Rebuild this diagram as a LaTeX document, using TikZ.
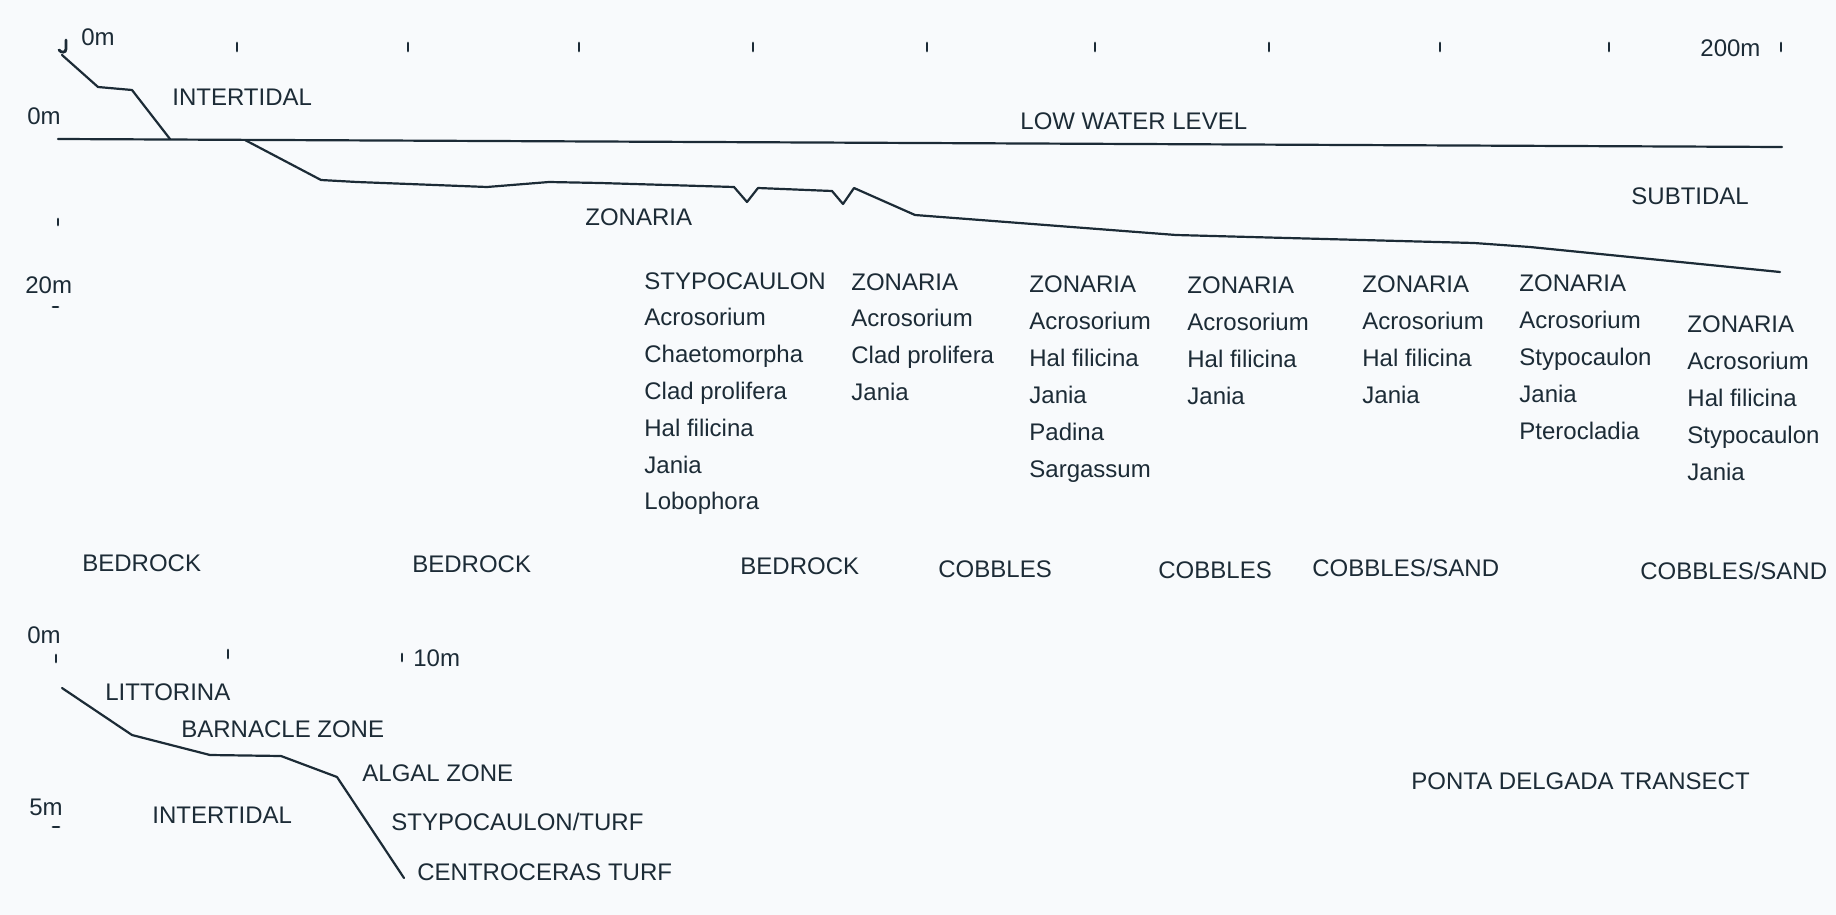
\documentclass[tikz,border=0pt]{standalone}
\usepackage{fontspec}
\setmainfont{Liberation Sans}
\definecolor{ink}{HTML}{1C2B36}
\definecolor{paper}{HTML}{F8FAFC}
\begin{document}
\begin{tikzpicture}[x=0.5pt,y=-0.5pt,
  lbl/.style={font=\fontsize{12}{14}\selectfont, inner sep=0pt, text=ink, anchor=west},
  row/.style={font=\fontsize{12}{14}\selectfont, inner sep=0pt, text=ink, anchor=base west},
  prof/.style={draw=ink, line width=1.1pt, line join=round, line cap=round},
  tickm/.style={draw=ink, line width=1.4pt, line cap=round}]
\fill[paper] (0,0) rectangle (1836,915);
\useasboundingbox (0,0) rectangle (1836,915);

% ---------- main transect ----------
% top scale ticks
\foreach \x [count=\i] in {237,408,579,753,927,1095,1269,1440,1609,1781}
  \draw[tickm] (\x,43) -- (\x,51);
\draw[tickm] (66,40) -- (66,49) .. controls (66,53) and (61,53) .. (59,50);
\node[lbl] (topzero) at (81,37) {0m};
\node[lbl] (toptwo) at (1700,48) {200m};

% left depth scale
\node[lbl] (lzero) at (27,116) {0m};
\draw[tickm] (58,219) -- (58,225);
\node[lbl] (ltwenty) at (25,285) {20m};
\draw[tickm] (53,307) -- (58,307);

% low water line
\coordinate (lwA) at (58,139);
\coordinate (lwB) at (1782,147);
\draw[prof] (lwA) -- (lwB);

% intertidal profile
\draw[prof] (62,55) -- (98,87) -- (132,90) -- (170,139);

% subtidal profile
\draw[prof] (245,140) -- (321,180) -- (357,182) -- (487,187) -- (549,182) -- (600,183)
  -- (734,187) -- (747,202) -- (758,188) -- (832,191) -- (843,204) -- (854,188)
  -- (915,215) -- (1176,235) -- (1250,237) -- (1474,243) -- (1530,247) -- (1780,272);

\node[lbl] (intert) at (172,97) {INTERTIDAL};
\node[lbl] (lwl) at (1020,121) {LOW WATER LEVEL};
\node[lbl] (subt) at (1631,196) {SUBTIDAL};
\node[lbl] (zon0) at (585,217) {ZONARIA};

% species columns
\foreach \t [count=\i] in {STYPOCAULON,Acrosorium,Chaetomorpha,Clad prolifera,Hal filicina,Jania,Lobophora}
  \node[row] (ca\i) at (644,{289+(\i-1)*36.8}) {\t};
\foreach \t [count=\i] in {ZONARIA,Acrosorium,Clad prolifera,Jania}
  \node[row] (cb\i) at (851,{290+(\i-1)*36.8}) {\t};
\foreach \t [count=\i] in {ZONARIA,Acrosorium,Hal filicina,Jania,Padina,Sargassum}
  \node[row] (cc\i) at (1029,{292+(\i-1)*37}) {\t};
\foreach \t [count=\i] in {ZONARIA,Acrosorium,Hal filicina,Jania}
  \node[row] (cd\i) at (1187,{293+(\i-1)*37}) {\t};
\foreach \t [count=\i] in {ZONARIA,Acrosorium,Hal filicina,Jania}
  \node[row] (ce\i) at (1362,{292+(\i-1)*37}) {\t};
\foreach \t [count=\i] in {ZONARIA,Acrosorium,Stypocaulon,Jania,Pterocladia}
  \node[row] (cf\i) at (1519,{291+(\i-1)*37}) {\t};
\foreach \t [count=\i] in {ZONARIA,Acrosorium,Hal filicina,Stypocaulon,Jania}
  \node[row] (cg\i) at (1687,{332+(\i-1)*37}) {\t};

% substrate
\node[lbl] (sub1) at (82,563) {BEDROCK};
\node[lbl] (sub2) at (412,564) {BEDROCK};
\node[lbl] (sub3) at (740,566) {BEDROCK};
\node[lbl] (sub4) at (938,569) {COBBLES};
\node[lbl] (sub5) at (1158,570) {COBBLES};
\node[lbl] (sub6) at (1312,568) {COBBLES/SAND};
\node[lbl] (sub7) at (1640,571) {COBBLES/SAND};

% ---------- inset intertidal profile ----------
\node[lbl] (izero) at (27,635) {0m};
\draw[tickm] (56,655) -- (56,662);
\draw[tickm] (228,650) -- (228,658);
\draw[tickm] (402,654) -- (402,661);
\node[lbl] (iten) at (413,658) {10m};
\node[lbl] (ifive) at (29,807) {5m};
\draw[tickm] (53,827) -- (59,827);

\draw[prof] (62,688) -- (132,735) -- (210,755) -- (281,756) -- (337,777) -- (404,878);

\node[lbl] (litt) at (105,692) {LITTORINA};
\node[lbl] (barn) at (181,729) {BARNACLE ZONE};
\node[lbl] (alg) at (362,773) {ALGAL ZONE};
\node[lbl] (iint) at (152,815) {INTERTIDAL};
\node[lbl] (styp) at (391,822) {STYPOCAULON/TURF};
\node[lbl] (cent) at (417,872) {CENTROCERAS TURF};

\node[lbl] (title) at (1411,781) {PONTA DELGADA TRANSECT};
\end{tikzpicture}
\end{document}
